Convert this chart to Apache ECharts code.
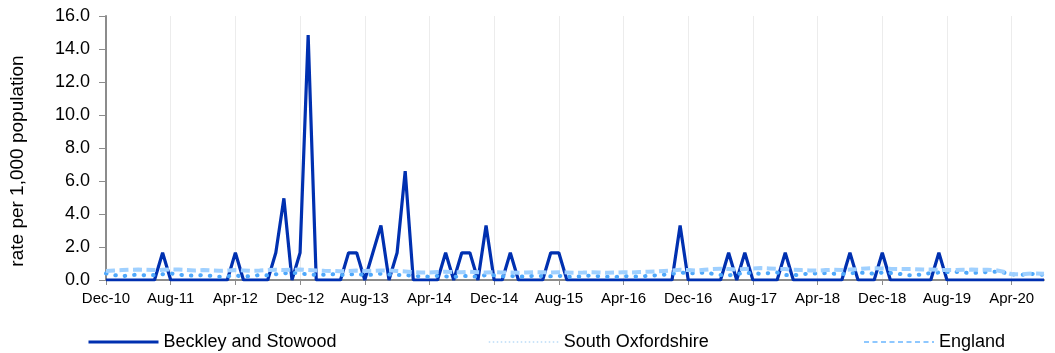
<!DOCTYPE html>
<html>
<head>
<meta charset="utf-8">
<script src="https://cdn.jsdelivr.net/npm/echarts@6/dist/echarts.min.js"></script>
<style>
  html, body { margin: 0; padding: 0; background: #ffffff; }
  #chart { width: 1055px; height: 353px; }
</style>
</head>
<body>
<div id="chart"></div>
<script>
// Monthly series, Dec-10 .. Aug-20
const MONTH_NAMES = ['Jan','Feb','Mar','Apr','May','Jun','Jul','Aug','Sep','Oct','Nov','Dec'];
const FIRST_YEAR = 2010;
const FIRST_MONTH = 11;   // December
const MONTH_COUNT = 117;

const categories = [];
for (let k = 0; k < MONTH_COUNT; k++) {
  const m = (FIRST_MONTH + k) % 12;
  const y = FIRST_YEAR + Math.floor((FIRST_MONTH + k) / 12);
  categories.push(MONTH_NAMES[m] + '-' + String(y % 100).padStart(2, '0'));
}

const seriesNames = ['Beckley and Stowood', 'South Oxfordshire', 'England'];

// rate per 1,000 population
const beckley = [
  0, 0, 0, 0, 0, 0, 0, 1.65, 0, 0, 0, 0, 0,
  0, 0, 0, 1.65, 0, 0, 0, 0, 1.65, 4.95, 0, 1.65,
  14.85, 0, 0, 0, 0, 1.65, 1.65, 0, 1.65, 3.3, 0, 1.65,
  6.6, 0, 0, 0, 0, 1.65, 0, 1.65, 1.65, 0, 3.3, 0,
  0, 1.65, 0, 0, 0, 0, 1.65, 1.65, 0, 0, 0, 0,
  0, 0, 0, 0, 0, 0, 0, 0, 0, 0, 3.3, 0,
  0, 0, 0, 0, 1.65, 0, 1.65, 0, 0, 0, 0, 1.65,
  0, 0, 0, 0, 0, 0, 0, 1.65, 0, 0, 0, 1.65,
  0, 0, 0, 0, 0, 0, 1.65, 0, 0, 0, 0, 0,
  0, 0, 0, 0, 0, 0, 0, 0
];

const southOxfordshire = [
  0.40, 0.30, 0.22, 0.30, 0.32, 0.28, 0.30, 0.35, 0.40, 0.32, 0.28, 0.26, 0.30,
  0.25, 0.20, 0.22, 0.28, 0.20, 0.24, 0.30, 0.28, 0.35, 0.40, 0.45, 0.38,
  0.35, 0.30, 0.32, 0.35, 0.30, 0.33, 0.36, 0.30, 0.32, 0.38, 0.33, 0.30,
  0.30, 0.25, 0.22, 0.20, 0.25, 0.22, 0.18, 0.25, 0.22, 0.20, 0.30, 0.28,
  0.22, 0.25, 0.20, 0.22, 0.26, 0.24, 0.22, 0.25, 0.20, 0.18, 0.24, 0.27,
  0.22, 0.20, 0.18, 0.24, 0.22, 0.20, 0.25, 0.28, 0.32, 0.38, 0.45, 0.42,
  0.40, 0.45, 0.38, 0.30, 0.28, 0.35, 0.45, 0.40, 0.38, 0.42, 0.45, 0.30,
  0.28, 0.35, 0.38, 0.40, 0.42, 0.38, 0.35, 0.40, 0.45, 0.42, 0.38, 0.45,
  0.42, 0.38, 0.30, 0.28, 0.35, 0.42, 0.45, 0.48, 0.50, 0.45, 0.42, 0.45,
  0.48, 0.50, 0.45, 0.35, 0.30, 0.35, 0.38, 0.30
];

const england = [
  0.55, 0.58, 0.60, 0.62, 0.63, 0.62, 0.60, 0.62, 0.64, 0.63, 0.60, 0.58, 0.60,
  0.58, 0.56, 0.57, 0.60, 0.58, 0.55, 0.57, 0.60, 0.62, 0.60, 0.62, 0.64,
  0.60, 0.58, 0.56, 0.55, 0.53, 0.55, 0.57, 0.55, 0.56, 0.58, 0.57, 0.55,
  0.52, 0.48, 0.45, 0.46, 0.48, 0.50, 0.48, 0.47, 0.50, 0.47, 0.45, 0.48,
  0.46, 0.45, 0.44, 0.46, 0.48, 0.47, 0.45, 0.47, 0.46, 0.44, 0.45, 0.47,
  0.46, 0.44, 0.45, 0.47, 0.46, 0.48, 0.50, 0.52, 0.55, 0.58, 0.62, 0.60,
  0.58, 0.62, 0.66, 0.68, 0.66, 0.64, 0.67, 0.70, 0.72, 0.70, 0.68, 0.66,
  0.62, 0.60, 0.58, 0.57, 0.60, 0.62, 0.60, 0.63, 0.66, 0.70, 0.72, 0.70,
  0.68, 0.67, 0.66, 0.66, 0.64, 0.63, 0.62, 0.60, 0.60, 0.62, 0.63, 0.62,
  0.62, 0.60, 0.50, 0.35, 0.34, 0.38, 0.40, 0.38
];

const Y_MIN = 0, Y_MAX = 16, Y_STEP = 2;
const LABEL_EVERY = 8;

const FONT = '"Liberation Sans", Arial, sans-serif';
const chart = echarts.init(document.getElementById('chart'), null, { renderer: 'canvas' });

const legendText = { fontFamily: FONT, fontSize: 18, color: '#000' };
const noMarker = { opacity: 0, borderWidth: 0 };

chart.setOption({
  animation: false,
  backgroundColor: '#ffffff',
  textStyle: { fontFamily: FONT },
  grid: { left: 106, right: 11, top: 16, bottom: 73, containLabel: false },
  legend: [
    {
      data: [seriesNames[0]], left: 82, top: 328, itemWidth: 70, itemHeight: 14, itemGap: 0,
      textStyle: legendText, itemStyle: noMarker, lineStyle: { width: 3 }
    },
    {
      data: [seriesNames[1]], left: 483, top: 328, itemWidth: 70, itemHeight: 14, itemGap: 0,
      textStyle: legendText, itemStyle: noMarker,
      lineStyle: { width: 1.5, type: [1.5, 2.5], color: '#bcdcf7', cap: 'butt' }
    },
    {
      data: [seriesNames[2]], left: 858, top: 328, itemWidth: 70, itemHeight: 14, itemGap: 0,
      textStyle: legendText, itemStyle: noMarker,
      lineStyle: { width: 2, type: [5, 3.5], color: '#8ec8ff', cap: 'butt' }
    }
  ],
  xAxis: {
    type: 'category',
    data: categories,
    boundaryGap: false,
    axisLine: { lineStyle: { color: '#8c8c8c', width: 2 } },
    axisTick: { show: true, interval: LABEL_EVERY - 1, length: 5, lineStyle: { color: '#8c8c8c', width: 1 } },
    axisLabel: {
      interval: LABEL_EVERY - 1, margin: 11, color: '#000',
      fontFamily: FONT, fontSize: 15
    },
    splitLine: { show: true, interval: LABEL_EVERY - 1, lineStyle: { color: '#ececec', width: 1 } }
  },
  yAxis: {
    type: 'value',
    min: Y_MIN, max: Y_MAX, interval: Y_STEP,
    name: 'rate per 1,000 population',
    nameLocation: 'middle',
    nameGap: 79,
    nameRotate: 90,
    nameTextStyle: { fontFamily: FONT, fontSize: 19, color: '#000', padding: [0, 26, 0, 0] },
    axisLine: { show: true, lineStyle: { color: '#8c8c8c', width: 2 } },
    axisTick: { show: true, length: 7, lineStyle: { color: '#8c8c8c', width: 1 } },
    axisLabel: {
      margin: 16, color: '#000', fontFamily: FONT, fontSize: 18,
      formatter: v => v.toFixed(1)
    },
    splitLine: { show: false }
  },
  series: [
    {
      name: seriesNames[0], type: 'line', data: beckley,
      symbol: 'none', color: '#0030b0',
      lineStyle: { color: '#0030b0', width: 3.2, join: 'bevel' }, z: 3
    },
    {
      name: seriesNames[1], type: 'line', data: southOxfordshire,
      symbol: 'none', color: '#4ea8fb',
      lineStyle: { color: '#4ea8fb', width: 4, type: [0.5, 9], cap: 'round' }, z: 4
    },
    {
      name: seriesNames[2], type: 'line', data: england,
      symbol: 'none', color: '#9fd0ff',
      lineStyle: { color: '#9fd0ff', width: 4, type: [9, 4.5] }, z: 5
    }
  ]
});
</script>
</body>
</html>
